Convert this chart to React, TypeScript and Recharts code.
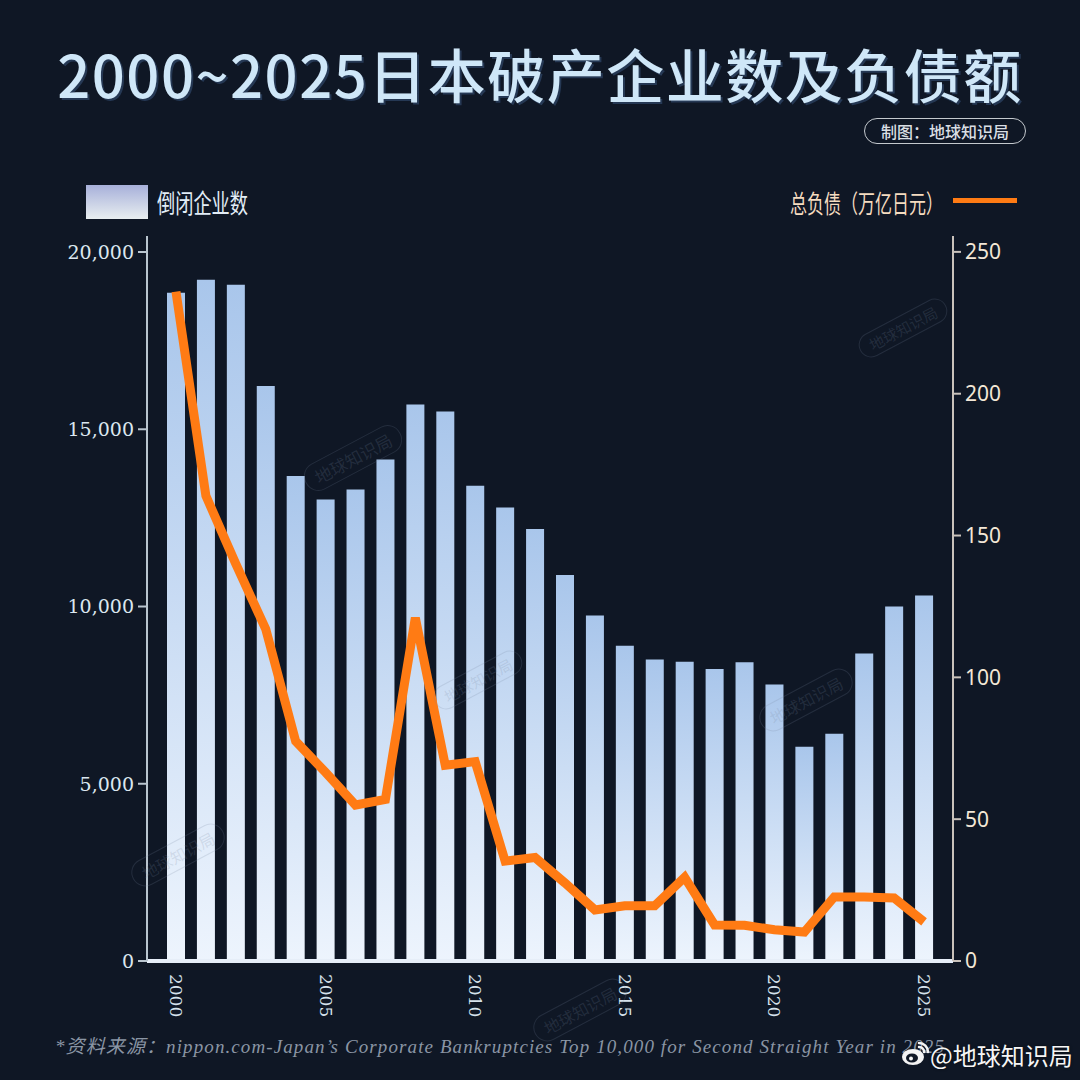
import React from "react";
import { ComposedChart, Bar, Line, XAxis, YAxis } from "recharts";

const years = [
  "2000", "2001", "2002", "2003", "2004", "2005", "2006", "2007", "2008", "2009",
  "2010", "2011", "2012", "2013", "2014", "2015", "2016", "2017", "2018", "2019",
  "2020", "2021", "2022", "2023", "2024", "2025",
];
const bankruptcies = [
  18850, 19220, 19080, 16220, 13680, 13020, 13300, 14150, 15700, 15500,
  13410, 12790, 12190, 10890, 9746, 8890, 8503, 8440, 8240, 8430,
  7797, 6045, 6412, 8672, 10000, 10310,
];
const debt = [
  236, 164, 140, 117, 77.5, 66.5, 55, 57, 121, 69,
  70.3, 35.2, 36.5, 27.5, 18, 19.5, 19.5, 29.5, 12.7, 12.6,
  11, 10.2, 22.6, 22.6, 22.2, 13.8,
];
const leftTicks = [0, 5000, 10000, 15000, 20000];
const rightTicks = [0, 50, 100, 150, 200, 250];

const data = years.map((y, i) => ({ year: y, count: bankruptcies[i], debt: debt[i] }));

const BG = "#0f1725";

const XTick = (props: any) => {
  const { x, y, payload } = props;
  return (
    <text
      x={x}
      y={y}
      transform={`rotate(90 ${x} ${y})`}
      textAnchor="start"
      dominantBaseline="central"
      fill="#d6e2ec"
      fontSize={17}
      fontFamily="DejaVu Serif"
    >
      {payload.value}
    </text>
  );
};

const watermarks = [
  { x: 353, y: 458, r: -28, s: 17 },
  { x: 903, y: 328, r: -28, s: 15 },
  { x: 806, y: 700, r: -28, s: 16 },
  { x: 478, y: 680, r: -28, s: 15 },
  { x: 178, y: 855, r: -28, s: 16 },
  { x: 580, y: 1010, r: -28, s: 16 },
];

export default function App() {
  return (
    <div
      style={{
        position: "absolute",
        left: 0,
        top: 0,
        width: 1080,
        height: 1080,
        background: BG,
        overflow: "hidden",
        fontFamily: "'Noto Sans CJK SC', 'Noto Sans', sans-serif",
      }}
    >
      <ComposedChart
        width={1080}
        height={1080}
        data={data}
        margin={{ top: 236, right: 0, bottom: 59, left: 0 }}
        style={{ position: "absolute", left: 0, top: 0 }}
      >
        <defs>
          <linearGradient id="barGrad" x1="0" y1="0" x2="0" y2="1">
            <stop offset="0%" stopColor="#a9c6eb" />
            <stop offset="100%" stopColor="#edf4fd" />
          </linearGradient>
        </defs>
        <XAxis
          dataKey="year"
          interval={4}
          tickLine={false}
          tickMargin={7}
          height={60}
          padding={{ left: 14, right: 14 }}
          axisLine={{ stroke: "#e6eef8", strokeWidth: 4 }}
          tick={<XTick />}
        />
        <YAxis
          yAxisId="l"
          width={147}
          domain={[0, 20452]}
          ticks={leftTicks}
          allowDataOverflow
          tickSize={9}
          tickMargin={4}
          axisLine={{ stroke: "#b9c5cf", strokeWidth: 2 }}
          tickLine={{ stroke: "#b9c5cf", strokeWidth: 2 }}
          tick={{ fill: "#dce7f0", fontSize: 19, fontFamily: "DejaVu Serif" }}
          tickFormatter={(v: number) => v.toLocaleString("en-US")}
        />
        <YAxis
          yAxisId="r"
          orientation="right"
          width={127}
          domain={[0, 255.6]}
          ticks={rightTicks}
          allowDataOverflow
          tickSize={8}
          tickMargin={4}
          axisLine={{ stroke: "#c9c2bb", strokeWidth: 2 }}
          tickLine={{ stroke: "#c9c2bb", strokeWidth: 2 }}
          tick={{ fill: "#f3e7d7", fontSize: 21, fontFamily: "Noto Sans" }}
        />
        <Bar
          yAxisId="l"
          dataKey="count"
          barSize={18}
          fill="url(#barGrad)"
          isAnimationActive={false}
        />
        <Line
          yAxisId="r"
          dataKey="debt"
          type="linear"
          stroke="#ff7b14"
          strokeWidth={9}
          strokeLinejoin="miter"
          dot={false}
          activeDot={false}
          isAnimationActive={false}
        />
      </ComposedChart>

      {watermarks.map((w, i) => (
        <div
          key={i}
          style={{
            position: "absolute",
            left: w.x,
            top: w.y,
            transform: `translate(-50%, -50%) rotate(${w.r}deg)`,
            fontSize: w.s,
            color: "rgba(120,135,160,0.2)",
            border: "1.5px solid rgba(120,135,160,0.2)",
            borderRadius: 14,
            padding: "1px 10px",
            whiteSpace: "nowrap",
            pointerEvents: "none",
          }}
        >
          地球知识局
        </div>
      ))}

      <div
        style={{
          position: "absolute",
          left: 0,
          width: 1080,
          top: 42,
          textAlign: "center",
          fontSize: 58,
          lineHeight: "62px",
          fontWeight: 500,
          letterSpacing: 1.5,
          color: "#cfe7f8",
          textShadow: "2px 2px 0 rgba(40,60,90,0.9)",
          whiteSpace: "nowrap",
        }}
      >
        2000~2025日本破产企业数及负债额
      </div>

      <div
        style={{
          position: "absolute",
          left: 864,
          top: 118,
          width: 160,
          height: 24,
          border: "1.5px solid #c4c9ce",
          borderRadius: 13,
          color: "#d9dee3",
          fontSize: 16,
          lineHeight: "24px",
          textAlign: "center",
          whiteSpace: "nowrap",
          fontWeight: 500,
        }}
      >
        制图：地球知识局
      </div>

      <div
        style={{
          position: "absolute",
          left: 86,
          top: 185,
          width: 62,
          height: 34,
          background: "linear-gradient(to bottom, #a7b0da, #e8eef0)",
        }}
      />
      <div
        style={{
          position: "absolute",
          left: 157,
          top: 184,
          fontSize: 26,
          lineHeight: "36px",
          color: "#e2edf7",
          transform: "scaleX(0.7)",
          transformOrigin: "left center",
          whiteSpace: "nowrap",
        }}
      >
        倒闭企业数
      </div>

      <div
        style={{
          position: "absolute",
          left: 790,
          top: 184,
          fontSize: 25,
          lineHeight: "36px",
          color: "#f5dcc0",
          transform: "scaleX(0.68)",
          transformOrigin: "left center",
          whiteSpace: "nowrap",
        }}
      >
        总负债（万亿日元）
      </div>
      <div
        style={{
          position: "absolute",
          left: 953,
          top: 198,
          width: 64,
          height: 5,
          background: "#ff7b14",
        }}
      />

      <div
        style={{
          position: "absolute",
          left: 55,
          top: 1034,
          fontSize: 19,
          lineHeight: "26px",
          fontStyle: "italic",
          fontFamily: "'Liberation Serif', 'Noto Sans CJK SC', serif",
          color: "#8a95a4",
          letterSpacing: 1.1,
          whiteSpace: "nowrap",
        }}
      >
        *资料来源：nippon.com-Japan’s Corporate Bankruptcies Top 10,000 for Second Straight Year in 2025
      </div>

      <svg
        width={30}
        height={28}
        viewBox="0 0 30 28"
        style={{ position: "absolute", left: 901, top: 1039 }}
      >
        <ellipse cx={12} cy={18} rx={11} ry={8} fill="#f4f4f4" />
        <ellipse cx={11} cy={19} rx={6} ry={4.5} fill={BG} />
        <circle cx={10} cy={19.5} r={2} fill="#f4f4f4" />
        <path d="M18 4 A9 9 0 0 1 27 13" stroke="#f4f4f4" strokeWidth={2.5} fill="none" strokeLinecap="round" />
        <path d="M18 8 A5 5 0 0 1 23 13" stroke="#f4f4f4" strokeWidth={2.5} fill="none" strokeLinecap="round" />
      </svg>
      <div
        style={{
          position: "absolute",
          left: 930,
          top: 1038,
          fontSize: 24,
          lineHeight: "34px",
          color: "#f6f6f6",
          whiteSpace: "nowrap",
          textShadow: "0 0 3px rgba(0,0,0,0.6)",
        }}
      >
        @地球知识局
      </div>
    </div>
  );
}
